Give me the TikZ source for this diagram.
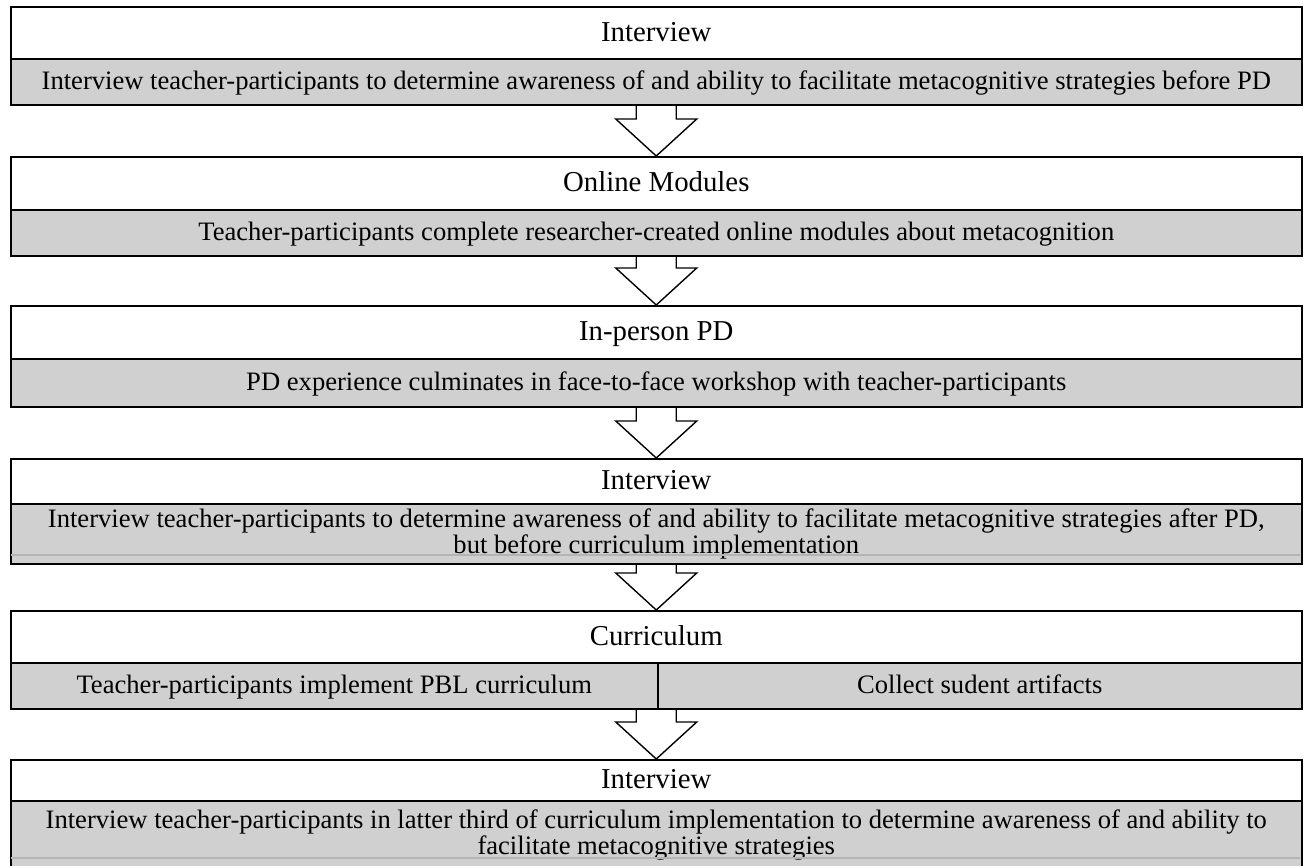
\documentclass[tikz,border=0pt]{standalone}
\usepackage{fontspec}
\setmainfont{Liberation Serif}
\usetikzlibrary{calc}
\definecolor{boxgray}{RGB}{208,208,208}
\definecolor{seamgray}{RGB}{180,180,180}
\newcommand{\flowarrow}[2]{%
  \draw[flow] let \p1=(#1.south), \p2=(#2.north) in
    (\x2-20pt,\y1) -- (\x2-20pt,\y2+37pt) -- (\x2-40.5pt,\y2+37pt) -- (\x2,\y2)
    -- (\x2+40.5pt,\y2+37pt) -- (\x2+20pt,\y2+37pt) -- (\x2+20pt,\y1);}
\begin{document}
\begin{tikzpicture}[x=1pt,y=-1pt,
  hdr/.style={draw, line width=1.5pt, fill=white, minimum width=1291pt, inner sep=0pt,
    anchor=north west, font=\fontsize{28.8}{32}\selectfont, text height=21pt, text depth=4pt},
  bdy/.style={draw, line width=1.5pt, fill=boxgray, inner sep=0pt, anchor=north west,
    font=\fontsize{26.6}{25.5}\selectfont, align=center},
  one/.style={text height=19pt, text depth=3pt},
  flow/.style={draw, line width=1.4pt, line join=miter},
  seam/.style={draw=seamgray, line width=2pt}]
\useasboundingbox (0,0) rectangle (1304,865);
\clip (0,0) rectangle (1304,865);
\fill[white] (0,0) rectangle (1304,865);

% box 1
\node[hdr, minimum height=52pt] (h1) at (10,6) {Interview};
\node[bdy, one, minimum width=1291pt, minimum height=46pt] (b1) at (10,58)
  {Interview teacher-participants to determine awareness of and ability to facilitate metacognitive strategies before PD};
% box 2
\node[hdr, minimum height=53pt] (h2) at (10,156) {Online Modules};
\node[bdy, one, minimum width=1291pt, minimum height=46pt] (b2) at (10,209)
  {Teacher-participants complete researcher-created online modules about metacognition};
% box 3
\node[hdr, minimum height=53pt] (h3) at (10,305) {In-person PD};
\node[bdy, one, minimum width=1291pt, minimum height=48pt] (b3) at (10,358)
  {PD experience culminates in face-to-face workshop with teacher-participants};
% box 4
\node[hdr, minimum height=45pt] (h4) at (10,458) {Interview};
\node[bdy, minimum width=1291pt, minimum height=60pt] (b4) at (10,503)
  {\rule{0pt}{2pt}Interview teacher-participants to determine awareness of and ability to facilitate metacognitive strategies after PD,\\
   but before curriculum implementation};
\draw[seam] (10.75,555) -- (1300.25,555);
% box 5
\node[hdr, minimum height=52pt] (h5) at (10,610) {Curriculum};
\node[bdy, one, minimum width=647pt, minimum height=46pt] (b5a) at (10,662)
  {Teacher-participants implement PBL curriculum};
\node[bdy, one, minimum width=644pt, minimum height=46pt] (b5b) at (657,662)
  {Collect sudent artifacts};
% box 6
\node[hdr, minimum height=41pt] (h6) at (10,759) {Interview};
\node[bdy, minimum width=1291pt, minimum height=68pt] (b6) at (10,800)
  {Interview teacher-participants in latter third of curriculum implementation to determine awareness of and ability to\\
   facilitate metacognitive strategies};
\draw[seam] (10.75,858) -- (1300.25,858);

% arrows
\flowarrow{b1}{h2}
\flowarrow{b2}{h3}
\flowarrow{b3}{h4}
\flowarrow{b4}{h5}
\flowarrow{b5a}{h6}
\end{tikzpicture}
\end{document}
